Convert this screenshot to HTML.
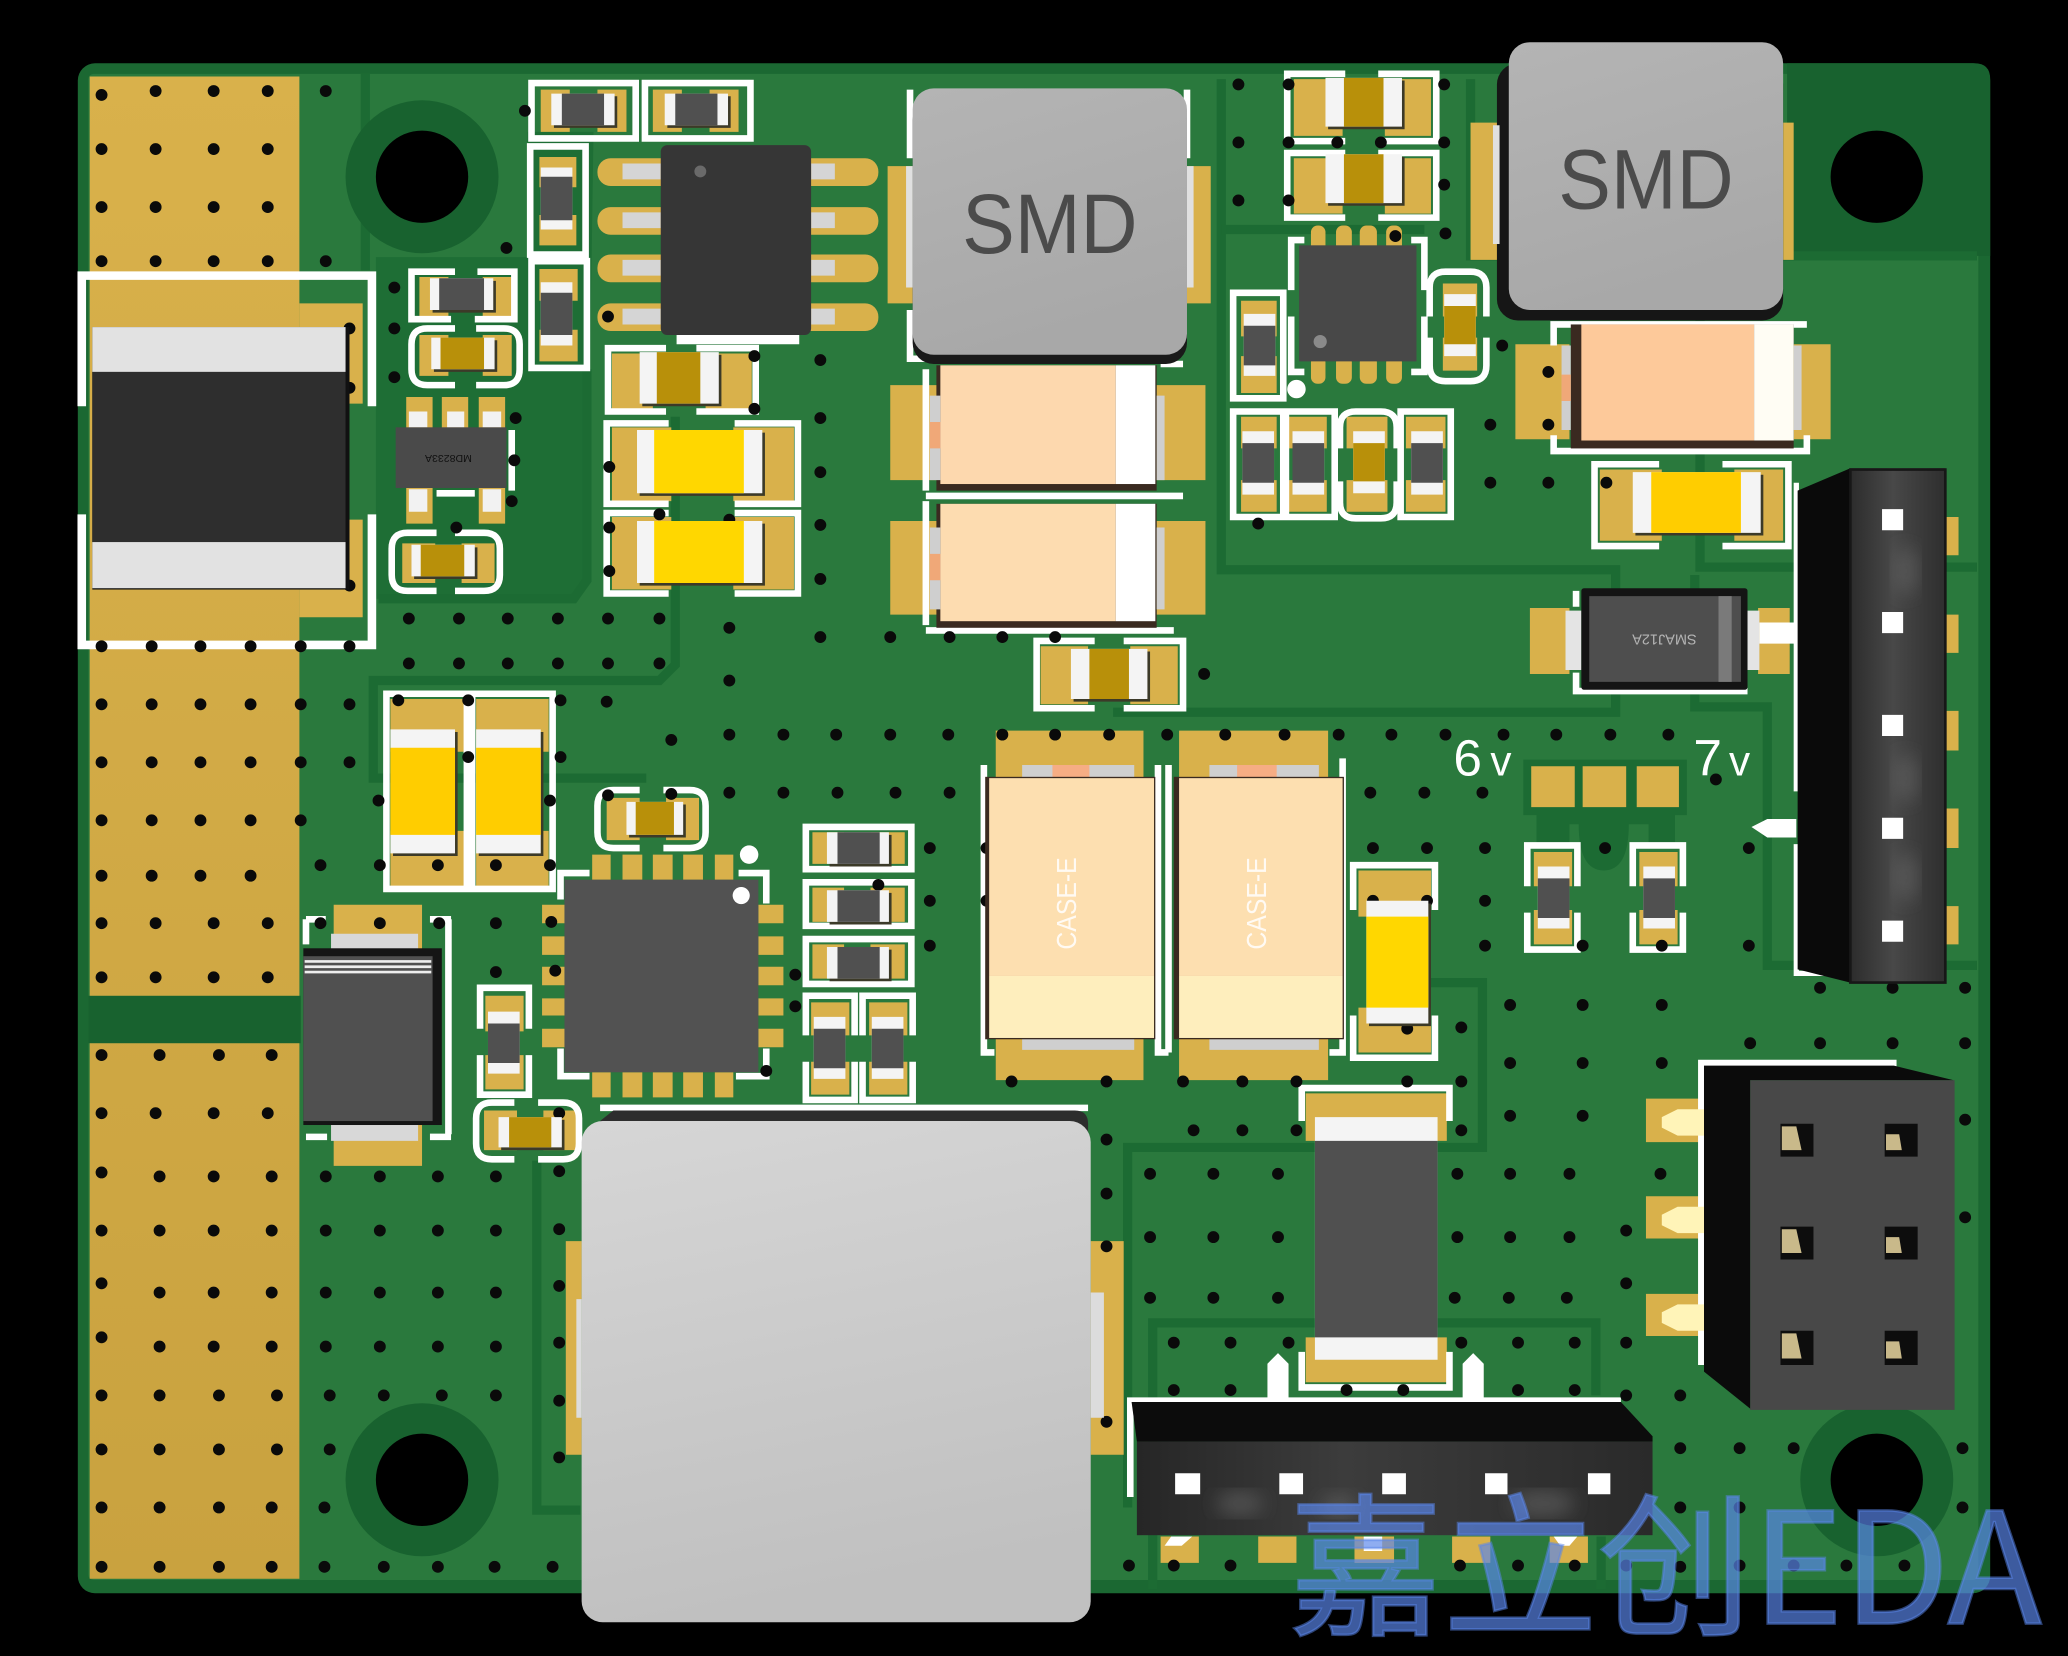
<!DOCTYPE html>
<html><head><meta charset="utf-8"><title>PCB</title>
<style>html,body{margin:0;padding:0;background:#000;width:2068px;height:1656px;overflow:hidden}svg{display:block}
text{font-family:"Liberation Sans","Noto Sans CJK SC",sans-serif}</style></head><body>
<svg xmlns="http://www.w3.org/2000/svg" width="2068" height="1656" viewBox="0 0 1568 1255.6" preserveAspectRatio="none">
<defs>
<linearGradient id="gi" x1="0" y1="0" x2="0.3" y2="1"><stop offset="0" stop-color="#b4b4b4"/><stop offset="1" stop-color="#a8a8a8"/></linearGradient>
<linearGradient id="gs" x1="0" y1="0" x2="0.2" y2="1"><stop offset="0" stop-color="#d6d6d6"/><stop offset="1" stop-color="#c0c0c0"/></linearGradient>
<linearGradient id="gh" x1="0" y1="0" x2="1" y2="0"><stop offset="0" stop-color="#262626"/><stop offset=".4" stop-color="#3c3c3c"/><stop offset="1" stop-color="#2a2a2a"/></linearGradient>
<linearGradient id="gv" x1="0" y1="0" x2="1" y2="0"><stop offset="0" stop-color="#2c2c2c"/><stop offset=".45" stop-color="#484848"/><stop offset="1" stop-color="#2e2e2e"/></linearGradient>
<linearGradient id="gg" x1="0" y1="0" x2="0" y2="1"><stop offset="0" stop-color="#d9b14b"/><stop offset="1" stop-color="#c9a23f"/></linearGradient>
<filter id="bl"><feGaussianBlur stdDeviation="7"/></filter>
</defs>
<rect width="1568" height="1256" fill="#000"/>
<!-- board -->
<rect x="59" y="48" width="1450" height="1160" rx="13" fill="#1b6832"/>
<rect x="67" y="56" width="1433" height="1142" rx="4" fill="#2a793d"/>
<path fill="#1e6e35" d="M285 195H400V100H450L445 440L435 454H285z"/>
<path fill="#18622f" d="M1355 48H1497Q1509 48 1509 60V194H1355z"/>
<rect x="67" y="755" width="161" height="36" fill="#18622f"/>
<!-- zone lines -->
<g fill="none" stroke="#1c6b33" stroke-width="7">
<path d="M277 56V205"/><path d="M287 454H435L445 440V280"/>
<path d="M512 316V504L500 516H283V590H490"/>
<path d="M926 60V432H1225V540H844"/><path d="M926 174H1080"/>
<path d="M1115 60V194H1499"/><path d="M1289 194V430H1499"/><path d="M1285 436V536H1340V732H1499"/>
<path d="M1040 745H1124V870H855V1143"/><path d="M874 1205V1003H1210V1058"/><path d="M1214 1165V1205"/>
<path d="M407 880V1145H440"/>
</g>
<path fill="#1c6b33" d="M1155 576H1279V618H1270V640H1250V625H1235Q1235 660 1216 660Q1197 660 1197 625H1190V640H1165V618H1155z"/>
<!-- holes -->
<g fill="#18622f"><circle cx="320" cy="134" r="58"/><circle cx="320" cy="1122" r="58"/><circle cx="1423" cy="1122" r="58"/></g>
<g fill="#000"><circle cx="320" cy="134" r="35"/><circle cx="320" cy="1122" r="35"/><circle cx="1423" cy="134" r="35"/><circle cx="1423" cy="1122" r="35"/></g>
<!-- gold strip -->
<path fill="url(#gg)" d="M68 58H227V755H68zM68 791H227V1197H68z"/>
<!-- pads -->
<path fill="#d9b14b" d="M227 230H275V306H227zM227 394H275V468H227zM318 210H340V240H318zM366 210H388V240H366zM318 254H340V285H318zM366 254H388V285H366zM308 301H328V325H308zM335 301H355V325H335zM363 301H383V325H363zM308 370H328V397H308zM363 370H383V397H363zM305 412H330V442H305zM350 412H375V442H350z
M410 68H432V100H410zM453 68H475V100H453zM495 68H517V100H495zM538 68H560V100H538zM409 119H437V142H409zM409 163H437V186H409zM409 204H438V228H409zM409 250H438V274H409z
M464 268H495V312H464zM535 268H570V312H535zM464 324H509V380H464zM556 324H602V380H556zM464 392H509V447H464zM556 392H602V447H556z
M673 126H692V230H673zM900 126H918V230H900zM1115 93H1144V197H1115zM1352 93H1360V197H1352z
M675 292H713V364H675zM877 292H914V364H877zM675 395H713V466H675zM877 395H914V466H877zM789 490H825V534H789zM857 490H893V534H857z
M755 554H867V592H755zM894 554H1007V592H894zM755 787H867V819H755zM894 787H1007V819H894z
M1030 660H1085V695H1030zM1030 764H1085V798H1030zM990 829H1097V865H990zM990 1014H1097V1048H990zM429 941H441V1103H429zM827 941H852V1103H827z
M449 648H463V667H449zM472 648H487V667H472zM495 648H510V667H495zM518 648H533V667H518zM542 648H556V667H542zM449 813H463V832H449zM472 813H487V832H472zM495 813H510V832H495zM518 813H533V832H518zM542 813H556V832H542z
M411 686H428V700H411zM411 710H428V724H411zM411 733H428V747H411zM411 757H428V770H411zM411 780H428V794H411zM575 686H594V700H575zM575 710H594V724H575zM575 733H594V747H575zM575 757H594V770H575zM575 780H594V794H575z
M296 530H352V570H296zM296 630H352V672H296zM361 530H416V570H361zM361 630H416V672H361zM460 605H485V637H460zM505 605H530V637H505zM253 686H320V720H253zM253 853H320V884H253zM368 755H397V782H368zM368 800H397V826H368zM367 842H392V872H367zM412 842H438V872H412z
M616 631H640V655H616zM660 631H686V655H660zM616 673H640V699H616zM660 673H686V699H660zM616 716H640V742H616zM660 716H686V742H660zM615 760H644V785H615zM615 805H644V830H615zM659 760H688V785H659zM659 805H688V830H659z
M981 60H1018V103H981zM1050 60H1085V103H1050zM981 120H1018V162H981zM1050 120H1085V162H1050z
M1094 215H1120V240H1094zM1094 256H1120V281H1094zM941 228H968V255H941zM941 270H968V298H941zM941 316H968V340H941zM941 364H968V388H941zM977 316H1006V340H977zM977 364H1006V388H977zM1021 316H1052V340H1021zM1021 364H1052V388H1021zM1066 316H1096V340H1066zM1066 364H1096V388H1066z
M1149 261H1190V333H1149zM1360 261H1388V333H1360zM1213 356H1260V410H1213zM1315 356H1352V410H1315zM1160 461H1190V511H1160zM1333 461H1357V511H1333z
M1475 392H1485V421H1475zM1475 466H1485V495H1475zM1475 539H1485V569H1475zM1475 613H1485V643H1475zM1475 687H1485V716H1475z
M1161 581H1194V612H1161zM1200 581H1233V612H1200zM1241 581H1273V612H1241zM1163 646H1192V672H1163zM1163 690H1192V716H1163zM1243 646H1272V672H1243zM1243 690H1272V716H1243z
M1248 833H1292V866H1248zM1248 907H1292V939H1248zM1248 981H1292V1013H1248z
M880 1165H909V1185H880zM954 1165H983V1185H954zM1027 1165H1057V1185H1027zM1101 1165H1130V1185H1101zM1175 1165H1204V1185H1175z"/>
<g fill="#d9b14b"><rect x="453" y="120" width="60" height="21" rx="10"/><rect x="453" y="157" width="60" height="21" rx="10"/><rect x="453" y="193" width="60" height="21" rx="10"/><rect x="453" y="230" width="60" height="21" rx="10"/><rect x="605" y="120" width="61" height="21" rx="10"/><rect x="605" y="157" width="61" height="21" rx="10"/><rect x="605" y="193" width="61" height="21" rx="10"/><rect x="605" y="230" width="61" height="21" rx="10"/>
<rect x="994" y="171" width="11" height="20" rx="5"/><rect x="1013" y="171" width="12" height="20" rx="5"/><rect x="1031" y="171" width="13" height="20" rx="5"/><rect x="1051" y="171" width="12" height="20" rx="5"/><rect x="994" y="270" width="11" height="21" rx="5"/><rect x="1013" y="270" width="12" height="21" rx="5"/><rect x="1031" y="270" width="13" height="21" rx="5"/><rect x="1051" y="270" width="12" height="21" rx="5"/></g>
<!-- silk -->
<g fill="none" stroke="#fff" stroke-width="5">
<path stroke-width="6.5" d="M62 308V209H282V308M62 390V489H282V390"/>
<path d="M345 206H312V242H342M362 206H390V242H360M403 63H482V105H403zM489 63H569V105H489zM402 111H444V193H402zM403 198H445V279H403z"/>
<path d="M345 249H324Q312 249 312 261V280Q312 292 324 292H345M361 249H382Q394 249 394 261V280Q394 292 382 292H361"/>
<path d="M331 404H309Q297 404 297 416V436Q297 448 309 448H331M345 404H367Q379 404 379 416V436Q379 448 367 448H345"/>
<path d="M388 326V372M331 374H360"/>
<path d="M505 264H461V312H505M528 312H573V264H528M507 321H460V382H507M557 321H605V382H557M507 389H460V450H507M557 389H605V450H557"/>
<path d="M690 120V68M690 235V272H712M900 120V68M702 280V372M702 376H897M702 380V474M702 478H890M897 276H880"/>
<path d="M830 486H786V537H830M852 537H897V486H852"/>
<path d="M746 580V798H754M878 580V798H886M886 580V798M1018 575V798H1008"/>
<path d="M1026 690V656H1088V690M1026 770V802H1088V770"/>
<path d="M987 850V825H1099V850M987 1025V1052H1099V1025"/>
<path d="M293 526H354V674H293zM358 526H419V674H358z"/>
<path d="M485 599H465Q453 599 453 611V631Q453 643 465 643H485M503 599H523Q535 599 535 611V631Q535 643 523 643H503"/>
<path d="M390 836H373Q361 836 361 848V867Q361 879 373 879H390M408 836H427Q439 836 439 848V867Q439 879 427 879H408"/>
<path d="M232 697H247M232 697V716M340 697V860M342 697H326M232 862H248M326 862H342"/>
<path d="M364 780V749H401V780M364 800V830H401V800"/>
<path d="M425 682V662H447M560 662H581V685M425 795V816H447M558 816H581V795"/>
<path d="M611 627H691V659H611zM611 669H691V702H611zM611 712H691V746H611zM611 785V755H648V785M611 805V834H648V805M654 785V755H692V785M654 805V834H692V805"/>
<path d="M1020 56H976V107H1020M1045 107H1089V56H1045M1020 116H976V165H1020M1045 165H1089V116H1045"/>
<path d="M979 220V182H989M1080 220V182H1070M979 240V282H989M1080 240V282H1070"/>
<path d="M1084 240V218Q1084 206 1096 206H1115Q1127 206 1127 218V240M1084 256V277Q1084 289 1096 289H1115Q1127 289 1127 277V256"/>
<path d="M935 222H973V302H935zM935 312H973V392H935zM975 312H1012V392H975zM1062 312H1100V392H1062z"/>
<path d="M1016 340V324Q1016 312 1028 312H1047Q1059 312 1059 324V340M1016 365V381Q1016 393 1028 393H1047Q1059 393 1059 381V365"/>
<path d="M1178 262V246H1370M1178 330V342H1370V330"/>
<path d="M1258 352H1209V414H1258M1306 414H1356V352H1306M1195 460V448M1195 510V524H1325"/>
<path d="M1158 672V641H1196V672M1158 692V720H1196V692M1238 672V641H1276V672M1238 692V720H1276V692"/>
<path d="M1362 366V600M1362 640V738H1395" stroke-width="4"/>
<path d="M1290 1035V806H1438"/>
<path d="M857 1135V1062H1229"/>
<path d="M455 840H825"/>
</g>
<circle cx="568" cy="648" r="7" fill="#fff"/><circle cx="983" cy="295" r="7" fill="#fff"/>
<path fill="#fff" d="M513 254H606V261H513zM1334 472H1364V488H1334zM1328 627L1340 621H1362V635H1340z"/>
<path fill="#fff" d="M961 1060V1034L969 1026L977 1034V1060zM1109 1060V1034L1117 1026L1125 1034V1060z"/>
<!-- vias -->
<path fill="none" stroke="#0a0a0a" stroke-width="9" stroke-linecap="round" d="
M77 72h0M118 69h0M162 69h0M203 69h0M247 69h0M77 113h0M118 113h0M162 113h0M203 113h0M77 157h0M118 157h0M162 157h0M203 157h0M77 198h0M118 198h0M162 198h0M203 198h0M247 198h0
M77 490h0M115 490h0M152 490h0M190 490h0M228 490h0M265 490h0M265 249h0M265 294h0M265 444h0
M77 534h0M115 534h0M152 534h0M190 534h0M228 534h0M265 534h0M77 578h0M115 578h0M152 578h0M190 578h0M228 578h0M265 578h0M77 622h0M115 622h0M152 622h0M190 622h0M228 622h0M77 664h0M115 664h0M152 664h0M190 664h0
M77 700h0M118 700h0M162 700h0M203 700h0M77 741h0M118 741h0M162 741h0M203 741h0
M77 800h0M121 800h0M166 800h0M206 800h0M77 844h0M118 844h0M162 844h0M203 844h0M77 889h0M121 892h0M162 892h0M206 892h0M77 933h0M121 933h0M162 933h0M206 933h0M77 973h0M121 980h0M162 980h0M206 980h0M77 1014h0M121 1021h0M162 1021h0M206 1021h0M77 1058h0M121 1058h0M166 1058h0M210 1058h0M77 1099h0M121 1099h0M166 1099h0M210 1099h0M77 1143h0M121 1143h0M166 1143h0M206 1143h0M77 1188h0M121 1188h0M166 1188h0M206 1188h0
M247 892h0M288 892h0M332 892h0M376 892h0M247 933h0M288 933h0M332 933h0M376 933h0M247 980h0M288 980h0M332 980h0M376 980h0M247 1021h0M288 1021h0M332 1021h0M376 1021h0M250 1058h0M291 1058h0M335 1058h0M376 1058h0M250 1099h0M246 1143h0M246 1188h0M291 1188h0M332 1188h0M375 1188h0M419 1188h0
M424 888h0M424 932h0M424 975h0M424 1018h0M424 1062h0M424 1105h0M424 844h0M376 700h0M376 737h0M418 699h0M421 736h0M243 656h0M288 656h0M332 656h0M376 656h0M417 656h0M243 700h0M288 700h0M333 700h0
M581 812h0M603 739h0M603 763h0M666 671h0M705 643h0M705 683h0M705 717h0M767 820h0M748 643h0M748 683h0
M310 469h0M348 469h0M385 469h0M423 469h0M461 469h0M500 469h0M310 503h0M348 503h0M385 503h0M423 503h0M461 503h0M500 503h0M553 476h0M553 516h0M553 557h0M553 601h0M509 561h0M509 602h0M594 557h0M634 557h0M675 557h0M719 557h0M760 557h0M594 601h0M635 601h0M679 601h0M720 601h0
M622 273h0M622 317h0M622 358h0M622 398h0M622 439h0M622 483h0M675 483h0M720 483h0M760 483h0
M302 531h0M355 531h0M425 531h0M460 532h0M355 574h0M425 574h0M287 607h0M417 607h0M461 603h0
M299 218h0M299 249h0M299 286h0M398 84h0M384 188h0M391 317h0M388 380h0M390 349h0M370 333h0M346 400h0M461 240h0M462 354h0M462 400h0M462 433h0M500 390h0M553 394h0M572 270h0M572 310h0
M939 64h0M939 108h0M939 152h0M977 64h0M977 108h0M977 152h0M1014 108h0M1047 108h0M1095 64h0M1095 108h0M1095 140h0M1096 177h0M1058 179h0M1139 262h0M1130 322h0M1130 366h0M1174 282h0M1174 322h0M1174 366h0M1218 366h0M954 397h0M913 511h0M800 483h0
M800 557h0M841 557h0M885 557h0M929 557h0M974 557h0M1015 557h0M1055 557h0M1096 557h0M1140 557h0M1180 557h0M1221 557h0M1265 557h0M1039 601h0M1080 601h0M1124 601h0M1301 591h0
M1041 643h0M1082 643h0M1126 643h0M1126 683h0M1126 717h0M1041 683h0M1082 683h0M1200 717h0M1260 717h0M1326 643h0M1326 717h0M1217 643h0
M1145 762h0M1200 762h0M1260 762h0M1145 806h0M1200 806h0M1260 806h0M1145 846h0M1200 846h0M1259 890h0M1108 779h0M1108 820h0M1108 857h0M1067 780h0M1067 820h0M839 820h0M897 820h0M942 820h0M983 820h0M905 857h0M942 857h0M983 857h0M839 864h0M839 905h0M839 945h0M839 1078h0
M872 890h0M920 890h0M969 890h0M872 938h0M920 938h0M969 938h0M872 984h0M920 984h0M969 984h0M1105 890h0M1145 890h0M1190 890h0M1105 938h0M1145 938h0M1190 938h0M1103 984h0M1144 984h0M1188 984h0
M1233 933h0M1233 973h0M1233 1018h0M1233 1058h0M890 1018h0M933 1018h0M977 1018h0M1108 1018h0M1151 1018h0M1194 1018h0M890 1054h0M933 1054h0M1021 1054h0M1064 1054h0M1151 1054h0M1194 1054h0M1274 1058h0M1274 1098h0M1274 1143h0M1274 1188h0M1319 1098h0M1360 1098h0M1319 1143h0M1488 1098h0M1488 1143h0
M1490 749h0M1490 791h0M1490 849h0M1490 923h0M1380 749h0M1435 749h0M1380 791h0M1435 791h0M1327 791h0M856 1187h0M890 1187h0M933 1187h0M1107 1187h0M1151 1187h0M1194 1187h0M1233 1187h0M1319 1187h0M1360 1187h0M1400 1187h0M1444 1187h0"/>
<!-- big resistor left -->
<rect x="70" y="248" width="195" height="199" fill="#111"/>
<rect x="70" y="248" width="192" height="34" fill="#e2e2e2"/><rect x="70" y="282" width="192" height="129" fill="#2e2e2e"/><rect x="70" y="411" width="192" height="35" fill="#e2e2e2"/>
<!-- white-ended bodies with shadow -->
<path fill="#3c3a28" transform="translate(2,2)" d="M326 211H374V235H326zM327 256H375V280H327zM312 413H360V437H312zM418 71H466V95H418zM504 71H552V95H504zM485 267H545V306H485zM483 326H578V374H483zM483 395H578V442H483zM812 492H870V530H812zM1036 683H1083V776H1036zM296 553H345V647H296zM361 553H410V647H361zM475 608H518V633H475zM378 847H426V870H378zM627 631H674V655H627zM627 675H674V699H627zM627 718H674V742H627zM1005 59H1063V96H1005zM1005 117H1063V154H1005zM1238 358H1335V404H1238z"/>
<path fill="#f4f4f4" d="M326 211H374V235H326zM327 256H375V280H327zM312 413H360V437H312zM418 71H466V95H418zM504 71H552V95H504zM410 127H434V174H410zM410 214H434V262H410z
M485 267H545V306H485zM483 326H578V374H483zM483 395H578V442H483zM812 492H870V530H812z
M1036 683H1083V776H1036zM997 847H1090V1031H997zM296 553H345V647H296zM361 553H410V647H361zM475 608H518V633H475zM370 767H394V814H370zM378 847H426V870H378z
M627 631H674V655H627zM627 675H674V699H627zM627 718H674V742H627zM617 771H641V818H617zM661 771H685V818H661z
M1005 59H1063V96H1005zM1005 117H1063V154H1005zM1095 223H1119V270H1095zM943 238H967V285H943zM942 327H966V375H942zM980 327H1004V375H980zM1026 327H1050V374H1026zM1070 327H1094V375H1070z
M1238 358H1335V404H1238zM1166 657H1190V704H1166zM1246 657H1270V704H1246z"/>
<path fill="#505050" d="M333 211H367V235H333zM426 71H458V95H426zM512 71H544V95H512zM410 134H434V167H410zM410 222H434V254H410zM635 631H667V655H635zM635 675H667V699H635zM635 718H667V742H635zM617 780H641V810H617zM661 780H685V810H661zM997 865H1090V1014H997zM370 776H394V806H370zM943 247H967V277H943zM942 336H966V366H942zM980 336H1004V366H980zM1070 336H1094V366H1070zM1166 666H1190V696H1166zM1246 666H1270V696H1246z"/>
<path fill="#b8900a" d="M334 256H367V280H334zM319 413H352V437H319zM498 267H531V306H498zM482 608H511V633H482zM386 847H418V870H386zM1019 59H1049V96H1019zM1019 117H1049V154H1019zM1095 232H1119V261H1095zM1026 336H1050V365H1026zM826 492H856V530H826z"/>
<path fill="#ffd700" d="M496 326H564V374H496zM496 395H564V442H496zM1036 695H1083V764H1036z"/>
<path fill="#ffcd00" d="M296 567H345V633H296zM361 567H410V633H361zM1252 358H1320V404H1252z"/>
<!-- SOT -->
<path fill="#f2f2f2" d="M310 312H324V324H310zM339 312H352V324H339zM366 312H380V324H366zM310 371H322H324V388H310zM366 371H380V388H366z"/>
<rect x="300" y="324" width="84" height="46" fill="#4a4a4a"/>
<text transform="translate(340,347) rotate(180)" font-size="8" fill="#111" text-anchor="middle" dominant-baseline="middle">MD8233A</text>
<!-- SOIC -->
<path fill="#d5d5d5" d="M472 124H501V136H472zM472 161H501V173H472zM472 197H501V209H472zM472 234H501V246H472zM615 124H633V136H615zM615 161H633V173H615zM615 197H633V209H615zM615 234H633V246H615z"/>
<rect x="501" y="110" width="114" height="144" rx="5" fill="#363636"/><circle cx="531" cy="130" r="4.5" fill="#6a6a6a"/>
<!-- orange tantalums -->
<rect x="710" y="277" width="167" height="95" fill="#3a2a20"/><rect x="713" y="277" width="133" height="90" fill="#fdd8ae"/><rect x="846" y="277" width="30" height="90" fill="#fff"/>
<rect x="710" y="382" width="167" height="94" fill="#3a2a20"/><rect x="713" y="382" width="133" height="89" fill="#fddcb0"/><rect x="846" y="382" width="30" height="89" fill="#fff"/>
<path fill="#cfcfcf" d="M705 300H713V364H705zM877 300H883V364H877zM705 400H713V462H705zM877 400H883V462H877z"/><path fill="#f0a878" d="M705 320H713V340H705zM705 420H713V440H705z"/>
<rect x="1191" y="246" width="169" height="94" fill="#3a2a20"/><rect x="1199" y="246" width="131" height="88" fill="#fdc99a"/><rect x="1330" y="246" width="30" height="88" fill="#fffdf4"/>
<path fill="#cfcfcf" d="M1184 262H1191V326H1184zM1360 262H1366V326H1360z"/><path fill="#f0a878" d="M1184 284H1191V304H1184z"/>
<!-- CASE-E -->
<path fill="#cfcfcf" d="M775 580H860V590H775zM917 580H1000V590H917zM775 787H860V796H775zM917 787H1000V796H917z"/>
<path fill="#f6ad84" d="M798 580H826V590H798zM938 580H968V590H938z"/>
<rect x="747" y="589" width="129" height="199" fill="#3a2a20"/><rect x="750" y="590" width="125" height="150" fill="#fddfb0"/><rect x="750" y="740" width="125" height="47" fill="#feeebd"/>
<rect x="890" y="589" width="129" height="199" fill="#3a2a20"/><rect x="894" y="590" width="124" height="150" fill="#fddfb0"/><rect x="894" y="740" width="124" height="47" fill="#feeebd"/>
<text transform="translate(816,720) rotate(-90)" font-size="21" fill="#fff" fill-opacity=".85" textLength="70" lengthAdjust="spacingAndGlyphs">CASE-E</text>
<text transform="translate(960,720) rotate(-90)" font-size="21" fill="#fff" fill-opacity=".85" textLength="70" lengthAdjust="spacingAndGlyphs">CASE-E</text>
<!-- QFNs -->
<rect x="428" y="667" width="147" height="146" fill="#525252"/><circle cx="562" cy="679" r="6.5" fill="#fff"/>
<rect x="985" y="186" width="89" height="88" fill="#484848"/><circle cx="1001" cy="259" r="5" fill="#8a8a8a"/>
<!-- diode left -->
<path fill="#d8d8d8" d="M251 708H317V720H251zM251 853H317V865H251z"/>
<rect x="230" y="719" width="105" height="134" fill="#151515"/><rect x="230" y="725" width="98" height="125" fill="#505050"/>
<path fill="#eee" d="M231 728H327V730H231zM231 732H327V734H231zM231 736H327V738H231z"/>
<!-- SMAJ -->
<path fill="#e4e4e4" d="M1187 463H1199V508H1187zM1325 463H1334V508H1325z"/>
<rect x="1199" y="446" width="126" height="77" rx="2" fill="#141414"/><rect x="1205" y="452" width="115" height="65" fill="#4e4e4e"/><rect x="1303" y="452" width="10" height="65" fill="#7a7a7a"/>
<text transform="translate(1262,484) rotate(180)" font-size="11" fill="#b4b4b4" text-anchor="middle" dominant-baseline="middle">SMAJ12A</text>
<!-- inductors -->
<rect x="692" y="75" width="208" height="201" rx="16" fill="#1a1a1a"/><rect x="692" y="67" width="208" height="202" rx="16" fill="url(#gi)"/>
<text x="796" y="192" font-size="64" fill="#4b4b4b" text-anchor="middle" textLength="133" lengthAdjust="spacingAndGlyphs">SMD</text>
<path fill="#e0e0e0" d="M687 126H692V218H687zM900 126H905V218H900z"/>
<rect x="1135" y="48" width="217" height="195" rx="16" fill="#161616"/><rect x="1144" y="32" width="208" height="203" rx="16" fill="url(#gi)"/>
<text x="1248" y="158" font-size="64" fill="#4b4b4b" text-anchor="middle" textLength="133" lengthAdjust="spacingAndGlyphs">SMD</text>
<path fill="#e0e0e0" d="M1132 95H1137V185H1132z"/>
<!-- big silver inductor -->
<path fill="#dcdcdc" d="M437 985H441V1075H437zM827 980H837V1075H827z"/>
<path fill="#2d2d2d" d="M455 850L465 842H815Q825 842 825 852V860H455z"/>
<rect x="441" y="850" width="386" height="380" rx="16" fill="url(#gs)"/>
<!-- right header -->
<rect x="1403" y="355" width="72" height="390" fill="url(#gv)"/>
<g filter="url(#bl)" fill="#6a6a6a" fill-opacity=".5"><ellipse cx="1445" cy="433" rx="10" ry="18"/><ellipse cx="1445" cy="590" rx="10" ry="18"/><ellipse cx="1445" cy="665" rx="10" ry="18"/></g>
<path fill="#0a0a0a" d="M1363 372L1403 355V745L1363 735z"/>
<path fill="none" stroke="#171717" stroke-width="2" d="M1403 356H1475V745H1403z"/>
<path fill="#fff" d="M1427 386H1443V402H1427zM1427 464H1443V480H1427zM1427 542H1443V558H1427zM1427 620H1443V636H1427zM1427 698H1443V714H1427z"/>
<!-- 2x3 header -->
<rect x="1327" y="819" width="155" height="250" fill="#484848"/>
<path fill="#0b0b0b" d="M1292 808H1436L1481 819H1327V1068L1292 1040z"/>
<path fill="#0d0d0d" d="M1350 852H1375V877H1350zM1429 852H1454V877H1429zM1350 930H1375V955H1350zM1429 930H1454V955H1429zM1350 1009H1375V1035H1350zM1429 1009H1454V1035H1429z"/>
<path fill="#c9b98a" d="M1351 854H1362L1366 872H1351zM1430 860H1440L1442 872H1430zM1351 932H1362L1366 950H1351zM1430 938H1440L1442 950H1430zM1351 1011H1362L1366 1030H1351zM1430 1017H1440L1442 1030H1430z"/>
<path fill="#fff4b8" d="M1260 847L1272 841H1292V861H1272L1260 855zM1260 921L1272 915H1292V935H1272L1260 929zM1260 995L1272 989H1292V1009H1272L1260 1003z"/>
<!-- bottom header -->
<path fill="#fff" d="M883 1172L888 1165H904L896 1172zM1034 1176H1048V1165H1034zM1183 1172L1178 1165H1196L1190 1172z"/>
<rect x="862" y="1093" width="391" height="71" fill="url(#gh)"/>
<g filter="url(#bl)" fill="#6a6a6a" fill-opacity=".55"><ellipse cx="940" cy="1140" rx="18" ry="9"/><ellipse cx="1015" cy="1142" rx="14" ry="8"/><ellipse cx="1170" cy="1140" rx="24" ry="10"/></g>
<path fill="#0c0c0c" d="M858 1063H1229L1253 1089V1093H862z"/>
<path fill="#fff" d="M891 1117H910V1133H891zM970 1117H988V1133H970zM1048 1117H1066V1133H1048zM1126 1117H1143V1133H1126zM1204 1117H1221V1133H1204z"/>
<!-- labels -->
<text x="1102" y="588" font-size="39" fill="#fff">6</text><text x="1130" y="588" font-size="32" fill="#fff">v</text>
<text x="1284" y="588" font-size="39" fill="#fff">7</text><text x="1311" y="588" font-size="32" fill="#fff">v</text>
<!-- watermark -->
<text x="977" y="1231" font-size="117" fill="#5a86ea" fill-opacity=".68" stroke="#5a86ea" stroke-opacity=".5" stroke-width="2" textLength="571" lengthAdjust="spacingAndGlyphs" style='font-family:"Noto Sans CJK SC","WenQuanYi Zen Hei",sans-serif;font-weight:400'>嘉立创EDA</text>
</svg>
</body></html>
